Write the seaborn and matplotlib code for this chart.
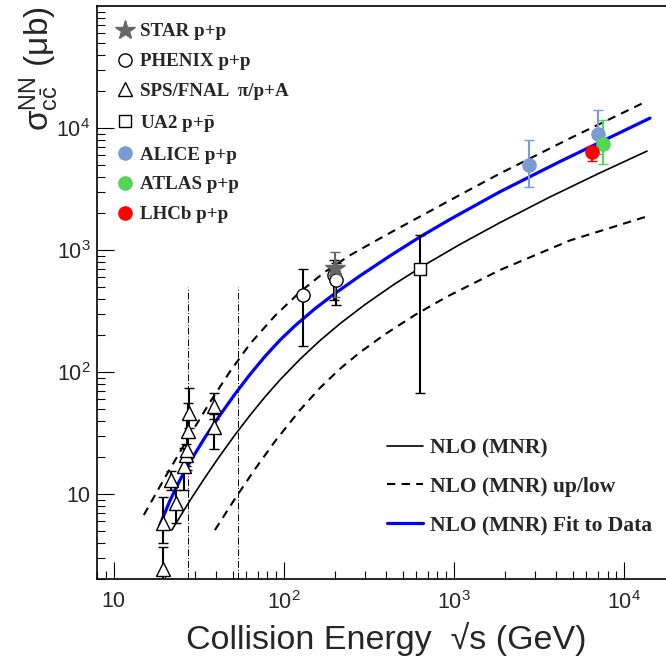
import numpy as np
import pandas as pd
import matplotlib
matplotlib.use("Agg")
import matplotlib.pyplot as plt
from matplotlib.lines import Line2D
from matplotlib.ticker import FixedLocator, LogLocator, NullFormatter
import seaborn as sns

# --- data ---
# SPS / FNAL pi/p+A (open triangles)
sps_x = [19.4, 19.4, 21.7, 23.2, 26.0, 26.5, 27.0, 27.4, 27.8, 38.8, 38.8]
sps_y = [2.45, 5.8, 13.1, 8.4, 16.9, 21.1, 23.2, 32.8, 46.6, 35.6, 52.7]
sps_lo = [1.0, 4.0, 10.8, 5.8, 10.8, 17.0, 15.9, 20.2, 35.0, 23.6, 41.0]
sps_hi = [3.7, 9.5, 15.4, 10.8, 23.9, 26.0, 41.0, 56.2, 74.0, 45.0, 67.0]

# PHENIX p+p (open circles)
phenix_x = [130, 197, 203]
phenix_y = [431, 620, 570]
phenix_lo = [165, 387, 357]
phenix_hi = [697, 828, 790]

# STAR p+p (grey star)
star_x = [200]
star_y = [707]
star_lo = [410]
star_hi = [970]

# UA2 p+pbar (open square)
ua2_x = [630]
ua2_y = [698]
ua2_lo = [68]
ua2_hi = [1330]

# LHC points
alice_x = [2760, 7000]
alice_y = [4970, 8870]
alice_lo = [3300, 6150]
alice_hi = [7980, 14090]
atlas_x = [7500]
atlas_y = [7340]
atlas_lo = [5090]
atlas_hi = [11600]
lhcb_x = [6500]
lhcb_y = [6350]
lhcb_lo = [5360]
lhcb_hi = [7190]

# NLO (MNR) curves
nlo_x = [21.94, 28.0, 34.3, 42.0, 51.5, 63.1, 77.3, 94.7, 124.2, 162.8, 213.5, 299.6,
         449.8, 675.2, 1085, 1865, 3670, 7225, 13660]
nlo_y = [5.08, 8.84, 13.63, 20.57, 30.5, 44.13, 62.45, 86.1, 127.3, 181.1, 249.2, 357.5,
         529.6, 757.8, 1114, 1679, 2725, 4297, 6475]
up_x = [15.02, 19.95, 26.9, 36.7, 48.1, 63.1, 88.5, 124.2, 174.2, 244.5, 392.9, 606,
        1085, 1865, 4813, 13660]
up_y = [6.75, 13.63, 27.7, 56.5, 100.6, 169.8, 288.9, 453.2, 662.2, 906.2, 1314, 1825,
        2835, 4241, 8240, 16630]
low_x = [39.3, 51.5, 67.5, 88.5, 124.2, 162.8, 213.5, 280, 392.9, 589.7, 910, 1865,
         4813, 13660]
low_y = [5.08, 9.15, 15.98, 27.0, 48.8, 74.1, 106.3, 145.1, 204.2, 294, 415.3, 686.7,
         1200, 1889]
fit_x = [18.65, 21.35, 24.45, 28.0, 34.3, 42.0, 51.5, 63.1, 77.3, 94.7, 116.1, 152.2,
         199.5, 280, 420.3, 631, 947, 1865, 2800, 4203, 7225, 14220]
fit_y = [5.58, 8.81, 13.0, 18.3, 29.1, 44.2, 65.9, 95.4, 134.2, 182.5, 239.5, 330.7,
         441.1, 615.2, 896, 1282, 1784, 3007, 3998, 5316, 7650, 12066]

# vertical dash-dot markers
vline_x = [27.4, 54.0]
vline_y = [2, 500]

xtick_vals = [10, 100, 1000, 10000]
xtick_labels = ["10", "$10^2$", "$10^3$", "$10^4$"]
ytick_vals = [10, 100, 1000, 10000]
ytick_labels = ["10", "$10^2$", "$10^3$", "$10^4$"]

sns.set_theme(style="ticks")
plt.rcParams["font.family"] = ["Liberation Sans", "DejaVu Sans"]
plt.rcParams["mathtext.fontset"] = "custom"
plt.rcParams["mathtext.rm"] = "Liberation Sans"
plt.rcParams["mathtext.it"] = "Liberation Sans:italic"
plt.rcParams["mathtext.bf"] = "Liberation Serif:bold"
plt.rcParams["mathtext.default"] = "rm"

fig = plt.figure(figsize=(6.66, 6.61), dpi=100)
ax = fig.add_axes([0.1461, 0.1233, 0.8677, 0.8676])
ax.set_xscale("log")
ax.set_yscale("log")

# --- curves ---
for vx in vline_x:
    ax.plot([vx, vx], vline_y, color="black", lw=0.7, dashes=[7, 2, 1, 2], zorder=1)

sns.lineplot(x=nlo_x, y=nlo_y, ax=ax, color="black", lw=1.2, sort=False, estimator=None)
sns.lineplot(x=up_x, y=up_y, ax=ax, color="black", lw=1.5, sort=False, estimator=None)
ax.lines[-1].set_dashes([4, 3])
sns.lineplot(x=low_x, y=low_y, ax=ax, color="black", lw=1.5, sort=False, estimator=None)
ax.lines[-1].set_dashes([4, 3])
sns.lineplot(x=fit_x, y=fit_y, ax=ax, color="#0000ff", lw=2.3, sort=False, estimator=None)
for ln in ax.lines:
    ln.set_solid_joinstyle("round")


def points(x, y, lo, hi, fmt, color, mfc, ms, ecolor=None):
    y = np.array(y, dtype=float)
    err = [y - np.array(lo), np.array(hi) - y]
    ec = ecolor if ecolor else color
    ax.errorbar(x, y, yerr=err, fmt=fmt, color=ec, mec=color, mfc=mfc, ms=ms,
                mew=1.0, elinewidth=1.5, capsize=3.6, capthick=1.5, zorder=5)


points(sps_x, sps_y, sps_lo, sps_hi, "^", "black", "white", 10)
points(phenix_x, phenix_y, phenix_lo, phenix_hi, "o", "black", "white", 9.5)
points(ua2_x, ua2_y, ua2_lo, ua2_hi, "s", "black", "white", 8.5)
points(star_x, star_y, star_lo, star_hi, "*", "#666666", "#666666", 15)
points(alice_x, alice_y, alice_lo, alice_hi, "o", "#7b9bd4", "#7b9bd4", 9.5)
points(atlas_x, atlas_y, atlas_lo, atlas_hi, "o", "#55d455", "#55d455", 9.5)
points(lhcb_x, lhcb_y, lhcb_lo, lhcb_hi, "o", "#ff0000", "#ff0000", 9.5)

# --- axes ---
ax.set_xlim(8, 2e4)
ax.set_ylim(2, 1e5)
ax.xaxis.set_major_locator(FixedLocator(xtick_vals))
ax.set_xticklabels(xtick_labels)
ax.yaxis.set_major_locator(FixedLocator(ytick_vals))
ax.set_yticklabels(ytick_labels)
ax.xaxis.set_minor_locator(LogLocator(base=10, subs=np.arange(2, 10), numticks=20))
ax.yaxis.set_minor_locator(LogLocator(base=10, subs=np.arange(2, 10), numticks=20))
ax.xaxis.set_minor_formatter(NullFormatter())
ax.yaxis.set_minor_formatter(NullFormatter())
ax.tick_params(which="both", direction="in", top=False, right=False, color="black", width=0.8)
ax.tick_params(which="major", length=12, labelsize=15.5)
ax.tick_params(which="minor", length=6)
ax.tick_params(axis="x", which="major", pad=8)
ax.tick_params(axis="y", which="major", pad=5)
for s in ["left", "bottom", "top"]:
    ax.spines[s].set_color("black")
    ax.spines[s].set_linewidth(1.2)
ax.spines["right"].set_visible(False)

ax.set_xlabel("Collision Energy  \u221As (GeV)", fontsize=24.5)
ax.xaxis.set_label_coords(0.50, -0.074)
ax.set_ylabel(r"$\sigma^{NN}_{c\bar{c}}$" + " (\u03bcb)", fontsize=24, loc="top")
ax.yaxis.set_label_coords(-0.062, 1.0)

# --- legends ---
lfont = {"family": "Liberation Serif", "weight": "bold", "size": 13.7}
h1 = [
    Line2D([], [], ls="none", marker="*", color="#666666", ms=15),
    Line2D([], [], ls="none", marker="o", mec="black", mfc="white", ms=9.5, mew=1.0),
    Line2D([], [], ls="none", marker="^", mec="black", mfc="white", ms=10, mew=1.0),
    Line2D([], [], ls="none", marker="s", mec="black", mfc="white", ms=8.5, mew=1.0),
    Line2D([], [], ls="none", marker="o", color="#7b9bd4", ms=9.5),
    Line2D([], [], ls="none", marker="o", color="#55d455", ms=9.5),
    Line2D([], [], ls="none", marker="o", color="#ff0000", ms=9.5),
]
l1 = ["STAR p+p", "PHENIX p+p", "SPS/FNAL  \u03c0/p+A", r"UA2 p+$\mathbf{\bar{p}}$",
      "ALICE p+p", "ATLAS p+p", "LHCb p+p"]
leg1 = ax.legend(h1, l1, prop=lfont, frameon=False, loc="upper left",
                 bbox_to_anchor=(115.5 / 666, 1 - 23 / 661), bbox_transform=fig.transFigure,
                 borderpad=0, borderaxespad=0, handlelength=1.0, handletextpad=0.3,
                 labelspacing=0.66)
ax.add_artist(leg1)

lfont2 = {"family": "Liberation Serif", "weight": "bold", "size": 15.5}
h2 = [
    Line2D([], [], color="black", lw=1.2),
    Line2D([], [], color="black", lw=1.5, dashes=[4, 3]),
    Line2D([], [], color="#0000ff", lw=2.3),
]
l2 = ["NLO (MNR)", "NLO (MNR) up/low", "NLO (MNR) Fit to Data"]
ax.legend(h2, l2, prop=lfont2, frameon=False, loc="upper left",
          bbox_to_anchor=(386.7 / 666, 1 - 438 / 661), bbox_transform=fig.transFigure,
          borderpad=0, borderaxespad=0, handlelength=1.67, handletextpad=0.34,
          labelspacing=0.86)

fig.savefig("out.png", dpi=100)
